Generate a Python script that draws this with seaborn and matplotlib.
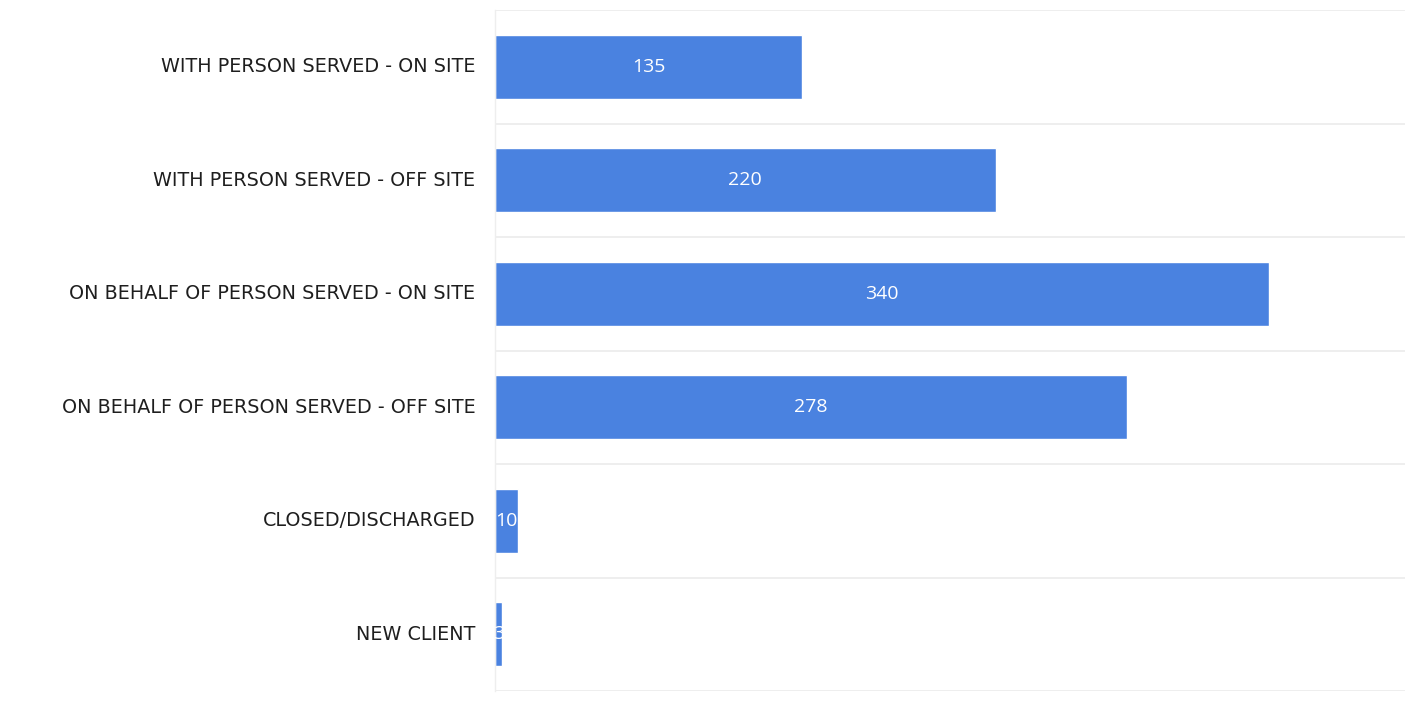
import matplotlib
matplotlib.use("Agg")
import matplotlib.pyplot as plt
import seaborn as sns
import pandas as pd
import numpy as np

categories = [
    "WITH PERSON SERVED - ON SITE",
    "WITH PERSON SERVED - OFF SITE",
    "ON BEHALF OF PERSON SERVED - ON SITE",
    "ON BEHALF OF PERSON SERVED - OFF SITE",
    "CLOSED/DISCHARGED",
    "NEW CLIENT",
]
counts = [135, 220, 340, 278, 10, 3]

df = pd.DataFrame({"category": categories, "count": counts})

sns.set_theme(style="white")
plt.rcParams["font.family"] = ["Open Sans", "DejaVu Sans"]

fig = plt.figure(figsize=(14.13, 7.14), dpi=100)
ax = fig.add_axes([495 / 1413, 1 - 691 / 714, (1405 - 495) / 1413, (691 - 10) / 714])

sns.barplot(data=df, y="category", x="count", color="#4a82e0", width=0.56,
            saturation=1, ax=ax, orient="h")

ax.set_xlim(0, 400)
ax.set_ylim(len(categories) - 0.5, -0.5)

# category separators
ax.set_yticks(np.arange(-0.5, len(categories), 1.0), minor=True)
ax.grid(which="minor", axis="y", color="#ebebeb", linewidth=1.2)
ax.grid(which="major", visible=False)
ax.tick_params(axis="y", which="both", length=0, pad=14)
ax.tick_params(axis="x", which="both", length=0)
ax.set_xticks([])
ax.set_xlabel("")
ax.set_ylabel("")
for lbl in ax.get_yticklabels():
    lbl.set_family("DejaVu Sans")
    lbl.set_fontsize(13.8)
    lbl.set_color("#1e1e1e")
    lbl.set_fontweight("normal")
    lbl.set_va("center")

for side in ["top", "right", "bottom"]:
    ax.spines[side].set_visible(False)
ax.spines["left"].set_color("#eeeeee")
ax.spines["left"].set_linewidth(1)

for container in ax.containers:
    ax.bar_label(container, label_type="center", color="white", fontsize=14)

fig.savefig("out.png", dpi=100, facecolor="white")
